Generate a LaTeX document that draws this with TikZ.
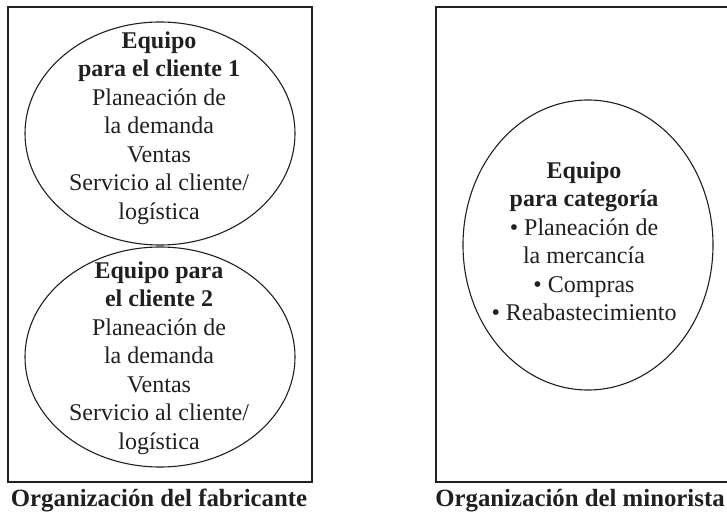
\documentclass[tikz,border=0pt]{standalone}
\usepackage{fontspec}
\setmainfont{Liberation Serif}
\usetikzlibrary{shapes.geometric}
\definecolor{ink}{HTML}{231F20}
\begin{document}
\begin{tikzpicture}[x=1bp,y=-1bp,
  frame/.style={draw=ink,line width=1.4bp,inner sep=0pt,minimum width=304bp,minimum height=475bp},
  team/.style={draw=ink,ellipse,line width=1.1bp,inner sep=0pt},
  txt/.style={text=ink,align=center,font=\fontsize{24bp}{28.5bp}\selectfont,inner sep=0pt},
  captiontext/.style={text=ink,font=\fontsize{24.8bp}{28bp}\selectfont\bfseries,inner sep=0pt}]
\useasboundingbox (0,0) rectangle (727,520);
\clip (0,0) rectangle (727,520);
\fill[white] (0,0) rectangle (727,520);
% frames
\node[frame] (fab) at (160,244.5) {};
\node[frame] (min) at (588,244.5) {};
% ellipses
\node[team,minimum width=270bp,minimum height=223bp] (t1) at (160,133.5) {};
\node[team,minimum width=270bp,minimum height=220bp] (t2) at (160,357) {};
\node[team,minimum width=250bp,minimum height=290bp] (tc) at (588,245) {};
% texts
\node[txt] (x1) at (159,128) {\textbf{Equipo}\\\textbf{para el cliente 1}\\Planeación de\\la demanda\\Ventas\\Servicio al cliente/\\logística};
\node[txt] (x2) at (159,358) {\textbf{Equipo para}\\\textbf{el cliente 2}\\Planeación de\\la demanda\\Ventas\\Servicio al cliente/\\logística};
\node[txt] (xc) at (584,241.5) {\textbf{Equipo}\\\textbf{para categoría}\\\textbullet{} Planeación de\\la mercancía\\\textbullet{} Compras\\\textbullet{} Reabastecimiento};
% captions
\node[captiontext] (c1) at (159,501) {Organización del fabricante};
\node[captiontext] (c2) at (580,501) {Organización del minorista};
\end{tikzpicture}
\end{document}
